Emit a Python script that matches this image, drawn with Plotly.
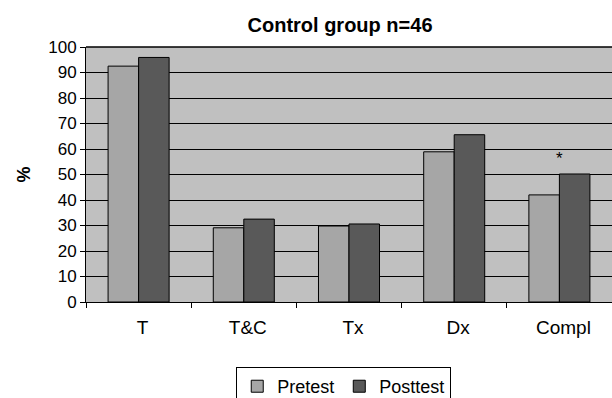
import plotly.graph_objects as go

categories = ["T", "T&C", "Tx", "Dx", "Compl"]
pretest = [92.5, 29.1, 29.8, 58.9, 42.0]
posttest = [95.9, 32.5, 30.6, 65.6, 50.2]
y_ticks = list(range(0, 101, 10))
title_text = "Control group n=46"
star_category = "Compl"
star_value = 58

FONT = "Liberation Sans, Arial, sans-serif"

fig = go.Figure()
fig.add_trace(go.Bar(name="Pretest", x=categories, y=pretest,
                     marker=dict(color="#a6a6a6", line=dict(color="black", width=1))))
fig.add_trace(go.Bar(name="Posttest", x=categories, y=posttest,
                     marker=dict(color="#595959", line=dict(color="black", width=1))))

fig.add_annotation(x=star_category, y=star_value, text="*", showarrow=False,
                   font=dict(size=17, color="black", family=FONT), yanchor="middle", yshift=-4)

fig.update_layout(
    width=612, height=398,
    margin=dict(l=86, r=0, t=47, b=96, autoexpand=False),
    paper_bgcolor="white", plot_bgcolor="#c0c0c0",
    font=dict(family=FONT, color="black"),
    barmode="group", bargap=0.42, bargroupgap=0,
    title=dict(text="<b>" + title_text + "</b>", x=340/612, xanchor="center",
               y=1 - 25/398, yanchor="middle", yref="container",
               font=dict(size=20, family=FONT, color="black")),
    legend=dict(orientation="h", x=0.49, xanchor="center", y=-0.255, yanchor="top",
                bordercolor="black", borderwidth=1, bgcolor="white",
                font=dict(size=18, family=FONT, color="black"),
                itemwidth=30, traceorder="normal", tracegroupgap=0),
    showlegend=True,
)
fig.update_yaxes(range=[0, 100], tickvals=y_ticks, showgrid=True, gridcolor="black", gridwidth=1,
                 showline=True, linecolor="black", linewidth=1, mirror=False,
                 ticks="outside", ticklen=5, tickcolor="black", tickwidth=1,
                 tickfont=dict(size=17, family=FONT, color="black"),
                 title=dict(text="<b>%</b>", standoff=12, font=dict(size=18, family=FONT, color="black")),
                 zeroline=False, fixedrange=True, automargin=False)
fig.update_xaxes(type="category", showline=True, linecolor="black", linewidth=1,
                 ticks="outside", ticklen=5, tickcolor="black", tickwidth=1, tickson="boundaries",
                 tickfont=dict(size=19, family=FONT, color="black"), ticklabelstandoff=8,
                 ticklabelshift=4, showgrid=False, fixedrange=True, automargin=False)
# top border line of plot area
fig.add_shape(type="line", xref="paper", yref="paper", x0=0, x1=1, y0=1, y1=1,
              line=dict(color="black", width=1.5))

fig.write_html("out.html")
